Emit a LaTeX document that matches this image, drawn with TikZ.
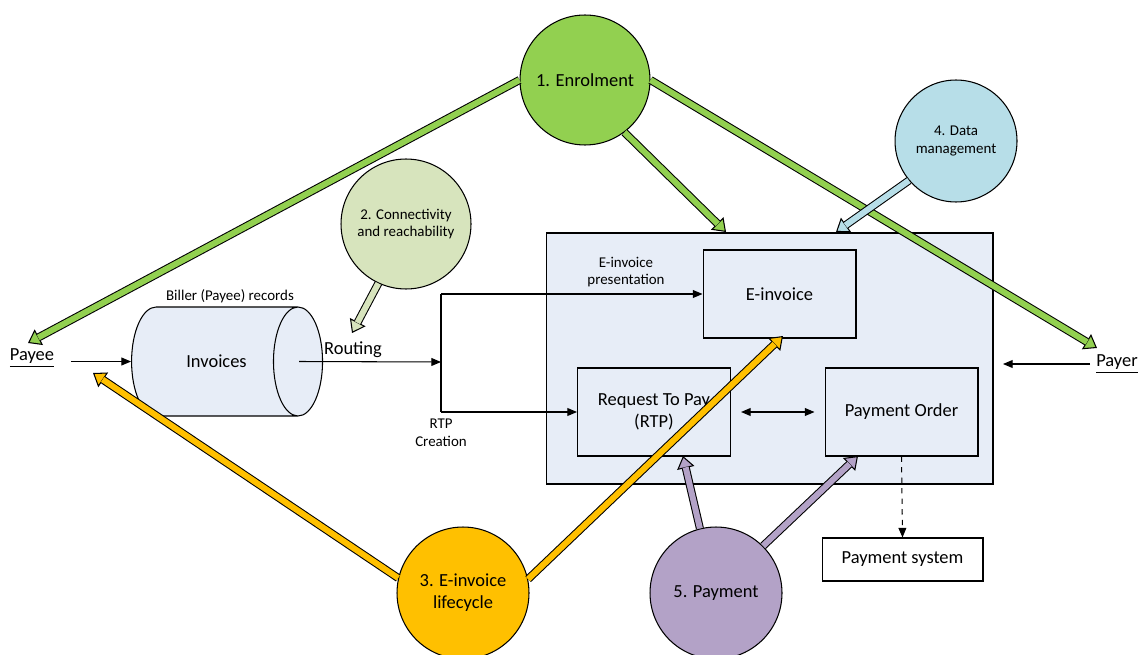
\documentclass[tikz,border=0pt]{standalone}
\usepackage{fontspec}
\setmainfont{Carlito}
\usetikzlibrary{positioning, arrows.meta, shapes.geometric, calc}

\definecolor{panelblue}{HTML}{E7EDF7}
\definecolor{enrolgreen}{HTML}{92D050}
\definecolor{connectgreen}{HTML}{D7E4BD}
\definecolor{datablue}{HTML}{B7DEE8}
\definecolor{cycleyellow}{HTML}{FFC000}
\definecolor{paypurple}{HTML}{B3A2C7}

\begin{document}
\begin{tikzpicture}[x=0.02cm, y=-0.02cm,
	box/.style={rectangle, draw, line width=0.6pt, fill=panelblue, minimum width=3.06cm, minimum height=1.76cm, font=\fontsize{10.5}{12.5}\selectfont, align=center},
	stage/.style={circle, draw, line width=0.6pt, fill=#1, inner sep=0pt, align=center},
	small/.style={font=\fontsize{8.5}{10}\selectfont, align=center},
	big/.style={font=\fontsize{10.5}{12.5}\selectfont, align=center},
	flow/.style={line width=0.6pt, -{Triangle[length=5.5pt,width=4.5pt]}},
	both/.style={line width=0.6pt, {Triangle[length=5.5pt,width=4.5pt]}-{Triangle[length=5.5pt,width=4.5pt]}},
	fat/.style={line width=3.4pt, draw=#1, shorten >=6.6pt, preaction={draw=black, line width=4.6pt, shorten >=0pt, -{Triangle[length=7pt,width=10pt,line width=0.6pt,fill=#1]}}},
	]
		\useasboundingbox (0,0) rectangle (1138,655);
		% central panel
		\node[rectangle, draw, line width=0.6pt, fill=panelblue, minimum width=8.94cm, minimum height=5.02cm] (panel) at (769.5,358.5) {};
		\node[box] (einv) at (779.5,294) {E-invoice};
		\node[box] (rtp) at (654,412) {Request To Pay\\(RTP)};
		\node[box] (order) at (901.5,412) {Payment Order};
		\node[box, fill=white, minimum width=3.22cm, minimum height=0.86cm] (paysys) at (902.5,559.5) {Payment system};
		% biller records
		\node[cylinder, draw, line width=0.6pt, fill=panelblue, minimum width=2.18cm, minimum height=3.82cm, aspect=2.0, big] (inv) at (209,361.5) {\hspace*{0.3cm}Invoices};
		\node[small] (biller) at (230,296) {Biller (Payee) records};
		\node[big] (routing) at (353,350) {Routing};
		\node[small] (present) at (626,272) {E-invoice\\presentation};
		\node[small] (creation) at (441,433) {RTP\\Creation};
		% parties
		\node[big] (payee) at (32,358) {\underline{Payee}};
		\node[big] (payer) at (1117,364) {\underline{Payer}};
		% stages
		\node[stage=enrolgreen, minimum size=2.6cm, big] (enrol) at (585,80) {1. Enrolment};
		\node[stage=connectgreen, minimum size=2.6cm, small] (connect) at (406,224) {2. Connectivity\\and reachability};
		\node[stage=datablue, minimum size=2.44cm, small] (data) at (956,141) {4. Data\\management};
		\node[stage=cycleyellow, minimum size=2.64cm, big] (cycle) at (463,593) {3. E-invoice\\lifecycle};
		\node[stage=paypurple, minimum size=2.64cm, big] (pay) at (716,593) {5. Payment};
		% routing split
		\coordinate (split) at (441,362);
		\coordinate (splittop) at (441,294);
		\coordinate (splitbot) at (441,412);
		\coordinate (payin) at (1003,364);
		% flow arrows
		\draw[flow, shorten <=6pt] (payee.east |- inv.west) -- (inv.west);
		\draw[flow] ([xshift=-0.48cm]inv.east) -- (split);
		\draw[line width=0.6pt] (splittop) -- (splitbot);
		\draw[flow] (splittop) -- (einv.west);
		\draw[flow] (splitbot) -- (rtp.west);
		\draw[both, shorten <=5.7pt, shorten >=5.7pt] (rtp.east) -- (order.west);
		\draw[flow, dashed] (order.south) -- (paysys.north);
		\draw[flow] (payer.west) -- (payin);
		% stage arrow ends
		\coordinate (toPayee) at (28,343);
		\coordinate (toPanel) at (726,232);
		\coordinate (toPayer) at (1097,348);
		\coordinate (toRouting) at (352,333);
		\coordinate (toData) at (836,232);
		\coordinate (toInv) at (93,373);
		\coordinate (toEinv) at (783,336);
		\coordinate (toRtp) at (683,456);
		\coordinate (toOrder) at (858,456);
		% stage arrows
		\draw[fat=enrolgreen] (enrol.west) -- (toPayee);
		\draw[fat=enrolgreen] (enrol.-53) -- (toPanel);
		\draw[fat=enrolgreen] (enrol.east) -- (toPayer);
		\draw[fat=connectgreen] (connect.-115) -- (toRouting);
		\draw[fat=datablue] (data.220) -- (toData);
		\draw[fat=cycleyellow] (cycle.167) -- (toInv);
		\draw[fat=cycleyellow] (cycle.12) -- (toEinv);
		\draw[fat=paypurple] (pay.104) -- (toRtp);
		\draw[fat=paypurple] (pay.45) -- (toOrder);
\end{tikzpicture}
\end{document}
